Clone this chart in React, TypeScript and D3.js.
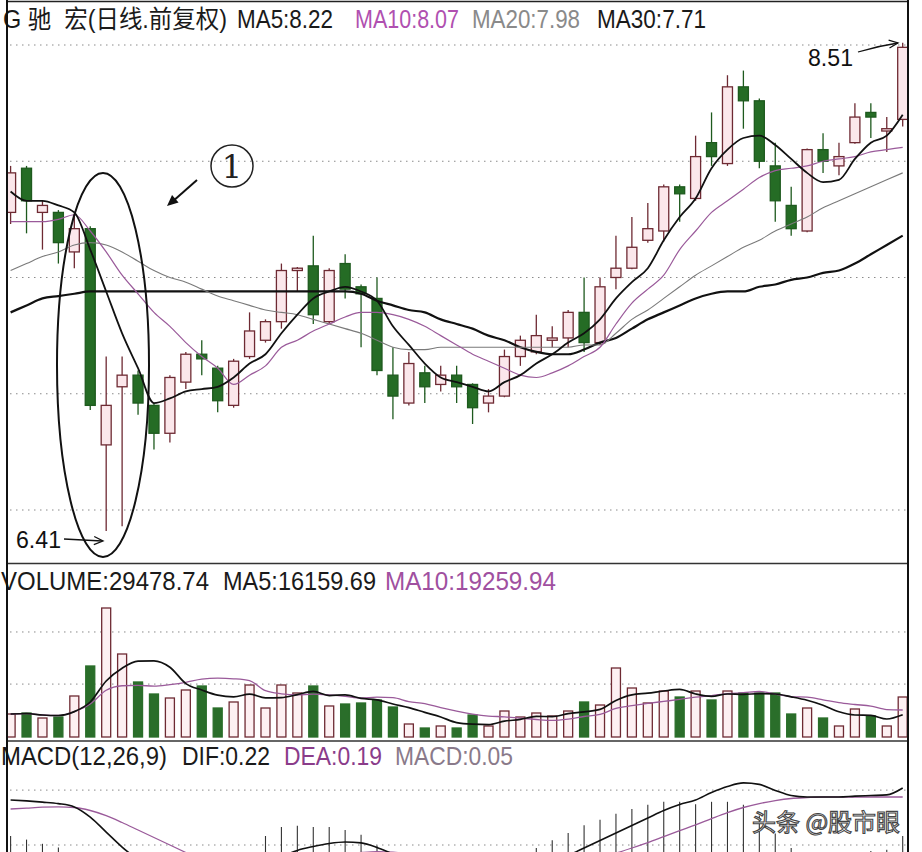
import React from "react";
import * as d3 from "d3";

const OPEN = [7.78,7.97,7.78,7.78,7.61,7.71,6.78,7.03,7.08,6.95,6.83,7.05,7.17,7.11,6.95,7.16,7.23,7.31,7.53,7.55,7.31,7.56,7.46,7.41,7.08,6.96,7.09,7.04,7.08,7.04,6.96,6.99,7.16,7.18,7.23,7.24,7.35,7.22,7.50,7.54,7.66,7.70,7.89,7.84,8.08,7.99,8.32,8.26,7.98,7.81,7.70,8.05,7.98,8.08,8.21,8.13,8.18];
const HIGH = [7.98,7.98,7.83,7.79,7.77,7.72,7.16,7.16,7.10,6.96,7.08,7.18,7.23,7.12,7.15,7.35,7.32,7.56,7.545,7.68,7.54,7.60,7.47,7.50,7.20,7.18,7.12,7.12,7.12,7.045,7.02,7.19,7.25,7.34,7.29,7.36,7.50,7.50,7.68,7.76,7.82,7.90,7.90,8.11,8.21,8.37,8.39,8.27,8.08,7.89,8.055,8.12,8.08,8.25,8.25,8.19,8.51];
const LOW = [7.73,7.69,7.62,7.56,7.54,6.93,6.41,6.43,6.91,6.76,6.79,7.02,7.08,6.92,6.94,7.15,7.22,7.28,7.44,7.30,7.30,7.41,7.20,7.08,6.89,6.95,6.96,7.01,6.96,6.87,6.92,6.985,7.12,7.17,7.20,7.20,7.18,7.21,7.45,7.535,7.65,7.655,7.74,7.83,7.98,7.98,8.14,7.97,7.74,7.68,7.695,7.95,7.94,8.075,8.10,8.04,8.15];
const CLOSE = [7.95,7.83,7.81,7.65,7.71,6.95,6.95,7.08,6.96,6.83,7.07,7.17,7.15,6.97,7.14,7.27,7.31,7.53,7.54,7.34,7.53,7.45,7.43,7.10,6.99,7.13,7.03,7.08,7.03,6.94,6.99,7.16,7.23,7.25,7.24,7.35,7.22,7.46,7.54,7.63,7.71,7.89,7.86,8.02,8.02,8.32,8.26,8.00,7.83,7.71,8.05,8.00,8.02,8.19,8.19,8.14,8.49];

const MA5 = [7.87,7.83,7.83,7.81,7.78,7.62,7.44,7.26,7.11,6.96,6.98,7.01,7.02,7.03,7.07,7.13,7.17,7.26,7.34,7.41,7.44,7.46,7.44,7.40,7.29,7.21,7.13,7.07,7.05,7.03,7.01,7.05,7.08,7.13,7.17,7.22,7.26,7.32,7.41,7.48,7.54,7.66,7.76,7.84,7.97,8.05,8.10,8.11,8.07,8.01,7.95,7.91,7.92,8.01,8.08,8.11,8.20];
const MA10 = [7.74,7.74,7.74,7.75,7.77,7.70,7.61,7.51,7.43,7.35,7.29,7.22,7.16,7.11,7.04,7.08,7.12,7.20,7.23,7.27,7.30,7.33,7.35,7.35,7.34,7.32,7.29,7.25,7.21,7.17,7.14,7.11,7.08,7.07,7.09,7.12,7.16,7.20,7.30,7.39,7.45,7.51,7.62,7.70,7.78,7.83,7.88,7.93,7.96,7.97,7.98,8.00,8.01,8.02,8.04,8.05,8.06];
const MA20 = [7.53,7.56,7.59,7.61,7.64,7.65,7.64,7.61,7.57,7.53,7.50,7.48,7.45,7.42,7.40,7.38,7.36,7.35,7.34,7.32,7.30,7.28,7.26,7.23,7.20,7.19,7.19,7.20,7.20,7.20,7.20,7.20,7.20,7.20,7.20,7.20,7.21,7.21,7.26,7.32,7.36,7.41,7.46,7.51,7.55,7.59,7.63,7.66,7.70,7.73,7.76,7.80,7.83,7.86,7.89,7.92,7.95];
const MA30 = [7.35,7.38,7.41,7.42,7.43,7.44,7.44,7.44,7.44,7.44,7.44,7.44,7.44,7.44,7.44,7.44,7.44,7.44,7.44,7.44,7.44,7.44,7.43,7.40,7.38,7.36,7.35,7.32,7.30,7.28,7.25,7.23,7.20,7.18,7.17,7.17,7.19,7.22,7.24,7.28,7.32,7.35,7.38,7.41,7.43,7.44,7.44,7.46,7.47,7.49,7.50,7.52,7.53,7.56,7.60,7.64,7.68];

const VOLUME = [16950,17690,14000,14740,30220,52330,95070,61170,40540,31690,28740,34640,37590,21370,25800,38320,21370,38320,32430,37590,22850,24320,25060,27270,22110,9580,6630,8110,6630,16210,8110,19160,14740,17690,15480,19160,25800,23580,50850,36110,25060,33900,29480,33900,27270,33900,32430,32430,32430,16950,21370,14000,8110,20640,15480,8110,29478.74];

const DIF = [0.18,0.177,0.173,0.168,0.157,0.123,0.073,0.023,-0.02,-0.065,-0.095,-0.115,-0.13,-0.14,-0.12,-0.08,-0.04,-0.01,0.012,0.025,0.035,0.04,0.037,0.022,0.0,-0.02,-0.04,-0.055,-0.065,-0.075,-0.08,-0.072,-0.058,-0.043,-0.025,-0.005,0.02,0.045,0.07,0.095,0.12,0.145,0.165,0.18,0.205,0.225,0.237,0.232,0.212,0.195,0.19,0.19,0.19,0.193,0.195,0.197,0.22];
const DEA = [0.15,0.153,0.156,0.157,0.155,0.145,0.128,0.105,0.08,0.055,0.03,0.005,-0.02,-0.04,-0.058,-0.068,-0.07,-0.055,-0.035,-0.02,-0.01,0.0,0.005,0.008,0.006,0.0,-0.01,-0.02,-0.03,-0.04,-0.048,-0.053,-0.055,-0.053,-0.048,-0.04,-0.028,-0.012,0.003,0.02,0.038,0.058,0.078,0.097,0.118,0.138,0.155,0.168,0.178,0.185,0.188,0.19,0.19,0.19,0.19,0.19,0.19];

const PRICE_GRID = [8.5, 8.0, 7.5, 7.0, 6.5];
const VOL_GRID = [39000, 77400];
const MACD_GRID = [0.03, 0.213];

const FONT = "'Liberation Sans', Arial, 'Noto Sans CJK SC', sans-serif";
const UP_STROKE = "#6e2a33";
const UP_FILL = "#fbe7eb";
const DOWN_FILL = "#256c25";
const DOWN_STROKE = "#1e5a1e";
const PURPLE = "#9a5a9a";

function movingAvg(arr: number[], n: number) {
  return arr.map((_, i) => d3.mean(arr.slice(Math.max(0, i - n + 1), i + 1)) as number);
}

function arrowHead(x1: number, y1: number, x2: number, y2: number, len: number, half: number) {
  const dx = x2 - x1, dy = y2 - y1;
  const L = Math.hypot(dx, dy);
  const ux = dx / L, uy = dy / L;
  const bx = x2 - ux * len, by = y2 - uy * len;
  return [
    [x2, y2],
    [bx - uy * half, by + ux * half],
    [bx + uy * half, by - ux * half],
  ];
}

type Seg = { t: string; x: number; w: number; c: string };

export default function App() {
  const N = CLOSE.length;
  const x = d3.scaleLinear().domain([0, N - 1]).range([10.6, 902.7]);
  const yP = d3.scaleLinear().domain([6.5, 8.5]).range([510, 45]);
  const yV = d3.scaleLinear().domain([0, 29478.74]).range([737, 697]);
  const yM = d3.scaleLinear().domain([0, 0.22]).range([854, 788]);

  const lineGen = (y: d3.ScaleLinear<number, number>) =>
    d3.line<number>().x((_, i) => x(i)).y((d) => y(d)).curve(d3.curveMonotoneX);

  const volMA5 = movingAvg(VOLUME, 5);
  const volMA10 = movingAvg(VOLUME, 10);
  const MACD = DIF.map((d, i) => 2 * (d - DEA[i]));

  const bodyW = 10;
  const volW = 9;

  const head1 = arrowHead(197, 180, 167, 206, 11, 5);
  const head641 = arrowHead(64, 539, 103, 541, 9, 4);
  const head851 = arrowHead(880, 45, 898, 43, 9, 4);

  const titleSegs: Seg[] = [
    { t: "G 驰  宏(日线.前复权)", x: 3, w: 224, c: "#1a1a1a" },
    { t: "MA5:8.22", x: 237, w: 96, c: "#1a1a1a" },
    { t: "MA10:8.07", x: 355, w: 104, c: "#b050b0" },
    { t: "MA20:7.98", x: 472, w: 108, c: "#8a8a8a" },
    { t: "MA30:7.71", x: 597, w: 109, c: "#1a1a1a" },
  ];
  const volSegs: Seg[] = [
    { t: "VOLUME:29478.74", x: 1, w: 208, c: "#1a1a1a" },
    { t: "MA5:16159.69", x: 223, w: 153, c: "#1a1a1a" },
    { t: "MA10:19259.94", x: 385, w: 171, c: "#a050a0" },
  ];
  const macdSegs: Seg[] = [
    { t: "MACD(12,26,9)", x: 1, w: 166, c: "#1a1a1a" },
    { t: "DIF:0.22", x: 182, w: 88, c: "#1a1a1a" },
    { t: "DEA:0.19", x: 284, w: 98, c: "#8a3c8a" },
    { t: "MACD:0.05", x: 395, w: 118, c: "#8a7a8a" },
  ];
  const renderSegs = (segs: Seg[], y: number, fs: number) =>
    segs.map((s) => (
      <text key={s.t} x={s.x} y={y} fill={s.c} fontSize={fs} textLength={s.w} lengthAdjust="spacingAndGlyphs"
        xmlSpace="preserve" style={{ whiteSpace: "pre" }}>{s.t}</text>
    ));

  return (
    <svg width={922} height={852} style={{ position: "absolute", left: 0, top: 0, background: "#fff" }}
      fontFamily={FONT}>
      <defs>
        <clipPath id="mainClip"><rect x={8} y={3} width={900} height={559} /></clipPath>
        <clipPath id="volClip"><rect x={8} y={565} width={900} height={175} /></clipPath>
        <clipPath id="macdClip"><rect x={8} y={742} width={900} height={110} /></clipPath>
      </defs>
      <rect x={0} y={0} width={922} height={852} fill="#fff" />

      {PRICE_GRID.map((p) => (
        <line key={"pg" + p} x1={10} x2={906} y1={yP(p)} y2={yP(p)} stroke="#8a8a8a" strokeWidth={1} strokeDasharray="1.5 4.5" />
      ))}
      {VOL_GRID.map((v) => (
        <line key={"vg" + v} x1={10} x2={906} y1={yV(v)} y2={yV(v)} stroke="#8a8a8a" strokeWidth={1} strokeDasharray="1.5 4.5" />
      ))}
      {MACD_GRID.map((v) => (
        <line key={"mg" + v} x1={10} x2={906} y1={yM(v)} y2={yM(v)} stroke="#8a8a8a" strokeWidth={1} strokeDasharray="1.5 4.5" />
      ))}

      <g clipPath="url(#mainClip)">
        {CLOSE.map((c, i) => {
          const o = OPEN[i];
          const up = c >= o;
          const cx = x(i);
          const top = yP(Math.max(o, c));
          const bot = yP(Math.min(o, c));
          const h = Math.max(1.5, bot - top);
          return (
            <g key={"c" + i}>
              <line x1={cx} x2={cx} y1={yP(HIGH[i])} y2={yP(LOW[i])}
                stroke={up ? UP_STROKE : DOWN_STROKE} strokeWidth={1.3} />
              <rect x={cx - bodyW / 2} y={top} width={bodyW} height={h}
                fill={up ? UP_FILL : DOWN_FILL} stroke={up ? UP_STROKE : DOWN_STROKE} strokeWidth={1.3} />
            </g>
          );
        })}
        <path d={lineGen(yP)(MA30) || ""} fill="none" stroke="#111" strokeWidth={2.2} />
        <path d={lineGen(yP)(MA20) || ""} fill="none" stroke="#7a7a7a" strokeWidth={1.1} />
        <path d={lineGen(yP)(MA10) || ""} fill="none" stroke={PURPLE} strokeWidth={1.2} />
        <path d={lineGen(yP)(MA5) || ""} fill="none" stroke="#111" strokeWidth={1.8} />
      </g>

      <ellipse cx={103} cy={365} rx={46} ry={192} fill="none" stroke="#111" strokeWidth={2} />
      <circle cx={232} cy={166} r={21} fill="none" stroke="#222" strokeWidth={1.5} />
      <text x={232} y={178} textAnchor="middle" fontFamily="'DejaVu Serif', 'Liberation Serif', serif" fontSize={32} fill="#222">1</text>
      <line x1={197} y1={180} x2={172} y2={202} stroke="#111" strokeWidth={2} />
      <polygon points={head1.map((p) => p.join(",")).join(" ")} fill="#111" />
      <text x={16} y={548} fontSize={24} textLength={45} lengthAdjust="spacingAndGlyphs" fill="#111">6.41</text>
      <line x1={64} y1={539} x2={102} y2={541} stroke="#111" strokeWidth={1.3} />
      <polyline points={[head641[1], head641[0], head641[2]].map((p) => p.join(",")).join(" ")} fill="none" stroke="#111" strokeWidth={1.3} />
      <text x={808} y={66} fontSize={24} textLength={45} lengthAdjust="spacingAndGlyphs" fill="#111">8.51</text>
      <path d="M858,52 Q878,46 898,43" fill="none" stroke="#111" strokeWidth={1.3} />
      <polyline points={[head851[1], head851[0], head851[2]].map((p) => p.join(",")).join(" ")} fill="none" stroke="#111" strokeWidth={1.3} />

      <g clipPath="url(#volClip)">
        {VOLUME.map((v, i) => {
          const up = CLOSE[i] >= OPEN[i];
          const cx = x(i);
          return (
            <rect key={"v" + i} x={cx - volW / 2} y={yV(v)} width={volW} height={yV(0) - yV(v)}
              fill={up ? "#fdf0f2" : "#2a6e2a"} stroke={up ? UP_STROKE : "#2a6e2a"} strokeWidth={1.3} />
          );
        })}
        <path d={lineGen(yV)(volMA10) || ""} fill="none" stroke={PURPLE} strokeWidth={1.3} />
        <path d={lineGen(yV)(volMA5) || ""} fill="none" stroke="#111" strokeWidth={1.7} />
      </g>

      <g clipPath="url(#macdClip)">
        {MACD.map((m, i) => (
          <line key={"m" + i} x1={x(i)} x2={x(i)} y1={yM(0)} y2={yM(m)} stroke={m >= 0 ? "#333" : "#2a6e2a"} strokeWidth={1.1} />
        ))}
        <path d={lineGen(yM)(DEA) || ""} fill="none" stroke={PURPLE} strokeWidth={1.3} />
        <path d={lineGen(yM)(DIF) || ""} fill="none" stroke="#111" strokeWidth={1.6} />
      </g>

      <line x1={7} x2={908} y1={1.5} y2={1.5} stroke="#222" strokeWidth={1.5} />
      <line x1={7} x2={908} y1={563.5} y2={563.5} stroke="#333" strokeWidth={1.5} />
      <line x1={7} x2={908} y1={741} y2={741} stroke="#333" strokeWidth={1.5} />

      {renderSegs(titleSegs, 28, 25)}
      {renderSegs(volSegs, 590, 25)}
      {renderSegs(macdSegs, 765, 25)}

      <text x={752} y={831} fontSize={24} fontFamily="'Noto Sans CJK SC', sans-serif" fill="#fff" stroke="#444" strokeWidth={1.1}>头条 @股市眼</text>

      <line x1={7} x2={7} y1={0} y2={852} stroke="#111" strokeWidth={2} />
      <line x1={908} x2={908} y1={0} y2={852} stroke="#111" strokeWidth={2} />
    </svg>
  );
}
